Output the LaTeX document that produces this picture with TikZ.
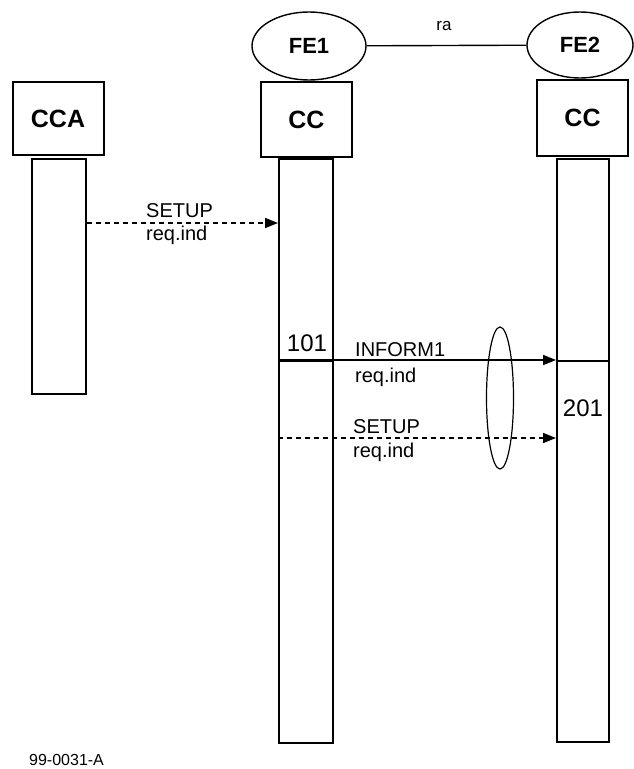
\documentclass[tikz,border=0pt]{standalone}
\usepackage{fontspec}
\setmainfont{Liberation Sans}
\usetikzlibrary{arrows.meta,shapes.geometric}

\begin{document}
\begin{tikzpicture}[x=1pt, y=-1pt, font=\fontsize{20}{22}\selectfont,
  headbox/.style={draw, line width=2pt, minimum width=91pt, inner sep=0pt,
    font=\fontsize{25}{27}\selectfont\bfseries},
  bar/.style={draw, line width=2pt, minimum width=54pt, inner sep=0pt},
  fe/.style={draw, ellipse, line width=1.4pt, inner sep=0pt,
    font=\fontsize{22}{24}\selectfont\bfseries},
  msg/.style={-{Triangle[length=13pt,width=10pt]}, line width=1.6pt},
  dashline/.style={dash pattern=on 5pt off 4pt},
  lab/.style={anchor=west, inner sep=0pt}]
  \useasboundingbox (0,0) rectangle (634,769);

  % entities
  \node[fe, minimum width=114pt, minimum height=68pt] (fe1) at (309,46) {FE1};
  \node[fe, minimum width=106pt, minimum height=66pt] (fe2) at (580,45) {FE2};
  \draw[line width=1.4pt] (fe1) -- (fe2);
  \node at (444,26) {\fontsize{17}{19}\selectfont ra};

  \node[headbox, minimum height=73pt] (cca) at (58,118.5) {CCA};
  \node[headbox, minimum height=75pt] (ccone) at (306.5,119.5) {CC};
  \node[headbox, minimum height=76pt] (cctwo) at (582.5,118) {CC};

  % activation bars
  \node[bar, minimum height=235pt] (ccabar) at (59,276.5) {};
  \node[bar, minimum height=202pt] (cconetop) at (306,260) {};
  \node[bar, minimum height=382pt] (cconelow) at (306,552) {};
  \node[bar, minimum width=52pt, minimum height=202pt] (cctwotop) at (583,260) {};
  \node[bar, minimum width=52pt, minimum height=381pt] (cctwolow) at (583,551.5) {};

  % messages
  \draw[msg, dashline] (ccabar.east |- 0,223) -- (cconetop.west |- 0,223);
  \node[lab] at (146,211) {SETUP};
  \node[lab] at (146,235) {req.ind};

  \draw[msg] (cconelow.north west) -- (cctwolow.north west);
  \node at (307,343) {\fontsize{24}{26}\selectfont 101};
  \node[lab] at (355,350) {INFORM1};
  \node[lab] at (355,377) {req.ind};

  \draw[msg, dashline] (cconelow.west |- 0,438) -- (cctwolow.west |- 0,438);
  \node[lab] at (353,427) {SETUP};
  \node[lab] at (353,452) {req.ind};

  \node[draw, ellipse, line width=1.2pt, minimum width=27pt, minimum height=142pt] (grp) at (500,398) {};
  \node at (583,408) {\fontsize{24}{26}\selectfont 201};

  \node[lab] at (29,760) {\fontsize{16}{18}\selectfont 99-0031-A};
\end{tikzpicture}
\end{document}
